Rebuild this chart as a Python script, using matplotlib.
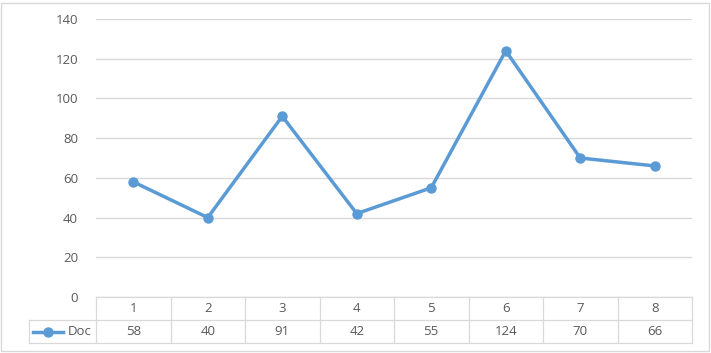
import matplotlib
matplotlib.use("Agg")
import matplotlib.pyplot as plt
from matplotlib.lines import Line2D
from matplotlib.patches import Rectangle

categories = ["1", "2", "3", "4", "5", "6", "7", "8"]
series_name = "Doc"
values = [58, 40, 91, 42, 55, 124, 70, 66]
yticks = [0, 20, 40, 60, 80, 100, 120, 140]

W, H = 711, 353
fig = plt.figure(figsize=(W / 100, H / 100), dpi=100)
plt.rcParams['font.family'] = ['Open Sans', 'DejaVu Sans']

line_color = "#5B9BD5"
grid_color = "#D9D9D9"
text_color = "#595959"
fs = 9.5

left, right, top, bottom = 96, 692, 19, 297
ax = fig.add_axes([left / W, 1 - bottom / H, (right - left) / W, (bottom - top) / H])

x = list(range(1, len(categories) + 1))
ax.set_xlim(0.5, len(categories) + 0.5)
ax.set_ylim(0, 140)
ax.set_yticks(yticks)
ax.set_yticklabels([str(v) for v in yticks], color=text_color, fontsize=fs)
ax.tick_params(axis='y', length=0, pad=13)
ax.set_xticks([])
for s in ax.spines.values():
    s.set_visible(False)
ax.grid(axis='y', color=grid_color, linewidth=1)
ax.set_axisbelow(True)

ax.plot(x, values, color=line_color, linewidth=2.5, marker='o', markersize=6.5,
        markerfacecolor=line_color, markeredgecolor=line_color, zorder=3,
        solid_joinstyle='round')

# data table
ah = bottom - top
rh = 23 / ah
trans = ax.get_xaxis_transform()
lw = 0.9
cw = (right - left) / 8
def px2x(px):
    return 0.5 + (px - left) / cw
xl = px2x(29)
xr = len(categories) + 0.5
ax.plot([0.5, xr], [0, 0], transform=trans, color=grid_color, lw=lw, clip_on=False)
ax.plot([xl, xr], [-rh, -rh], transform=trans, color=grid_color, lw=lw, clip_on=False)
ax.plot([xl, xr], [-2 * rh, -2 * rh], transform=trans, color=grid_color, lw=lw, clip_on=False)
for b in range(len(categories) + 1):
    ax.plot([b + 0.5, b + 0.5], [0, -2 * rh], transform=trans, color=grid_color, lw=lw, clip_on=False)
ax.plot([xl, xl], [-rh, -2 * rh], transform=trans, color=grid_color, lw=lw, clip_on=False)

for xi, c, v in zip(x, categories, values):
    ax.text(xi, -rh / 2, c, transform=trans, ha='center', va='center', color=text_color, fontsize=fs)
    ax.text(xi, -1.5 * rh, str(v), transform=trans, ha='center', va='center', color=text_color, fontsize=fs)

# legend key in table
leg = Line2D([px2x(33), px2x(63)], [-1.5 * rh, -1.5 * rh], transform=trans, color=line_color, lw=2.5,
             clip_on=False)
ax.add_line(leg)
ax.plot([px2x(48)], [-1.5 * rh], transform=trans, marker='o', markersize=6.5, color=line_color, clip_on=False)
ax.text(px2x(68), -1.5 * rh, series_name, transform=trans, ha='left', va='center', color=text_color, fontsize=fs)

# outer border
fig.patches.append(Rectangle((1.5 / W, 2.5 / H), (W - 4) / W, (H - 5) / H, transform=fig.transFigure,
                             fill=False, edgecolor=grid_color, linewidth=1))

fig.savefig("out.png", dpi=100)
